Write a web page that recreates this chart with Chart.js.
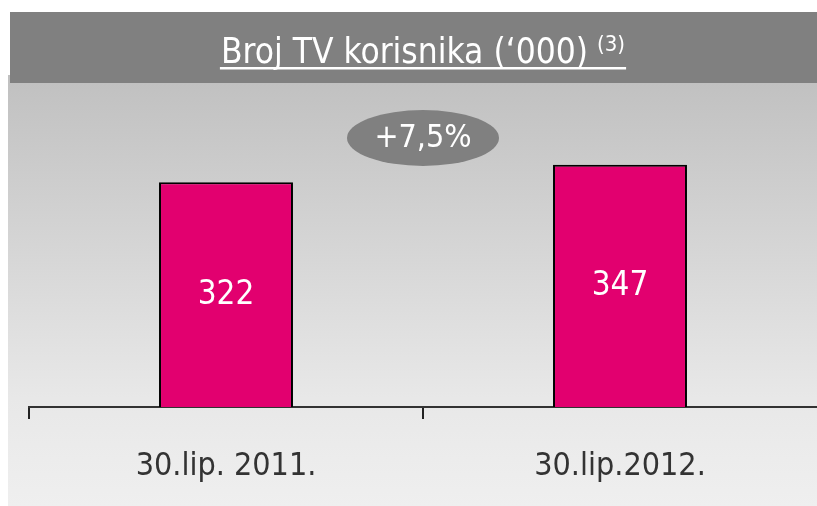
<!DOCTYPE html>
<html>
<head>
<meta charset="utf-8">
<script src="https://cdn.jsdelivr.net/npm/chart.js@4/dist/chart.umd.min.js"></script>
<style>
html,body{margin:0;padding:0;background:#fff;}
#wrap{width:817px;height:506px;position:relative;}
</style>
</head>
<body>
<div id="wrap"><canvas id="c" width="817" height="506"></canvas></div>
<script>
const categories = ['30.lip. 2011.', '30.lip.2012.'];
const tvUsers = [322, 347];
const titleText = 'Broj TV korisnika (\u2018000)';
const titleNote = '(3)';
const growthLabel = '+7,5%';

const FONT = "'DejaVu Sans Condensed', 'Liberation Sans', sans-serif";
const MAGENTA = '#e2006f';

const decor = {
  id: 'decor',
  beforeDraw(chart) {
    const ctx = chart.ctx;
    ctx.save();
    ctx.fillStyle = '#ffffff';
    ctx.fillRect(0, 0, 817, 506);
    const g = ctx.createLinearGradient(0, 75, 0, 506);
    g.addColorStop(0, '#c0c0c0');
    g.addColorStop(0.75, '#e8e8e8');
    g.addColorStop(1, '#efefef');
    ctx.fillStyle = g;
    ctx.fillRect(8, 75, 809, 431);
    ctx.fillStyle = '#808080';
    ctx.fillRect(10, 12, 807, 71);
    ctx.fillStyle = '#ffffff';
    ctx.textBaseline = 'alphabetic';
    ctx.textAlign = 'left';
    ctx.font = '35px ' + FONT;
    const w1 = ctx.measureText(titleText).width;
    ctx.font = '22px ' + FONT;
    const w2 = ctx.measureText(titleNote).width;
    const gap = 9;
    const total = w1 + gap + w2;
    const x0 = 423 - total / 2;
    ctx.font = '35px ' + FONT;
    ctx.fillText(titleText, x0, 63);
    ctx.font = '22px ' + FONT;
    ctx.fillText(titleNote, x0 + w1 + gap, 51);
    ctx.fillRect(x0 - 1, 67, total + 2, 2.5);
    ctx.restore();
  },
  afterDatasetsDraw(chart) {
    const ctx = chart.ctx;
    ctx.save();
    const meta = chart.getDatasetMeta(0);
    ctx.fillStyle = '#ffffff';
    ctx.font = '33px ' + FONT;
    ctx.textAlign = 'center';
    ctx.textBaseline = 'middle';
    meta.data.forEach((bar, i) => {
      const y = (bar.y + bar.base) / 2;
      ctx.fillText(String(tvUsers[i]), bar.x, y + 0.5);
    });
    const cx = (meta.data[0].x + meta.data[1].x) / 2;
    const cy = 138;
    ctx.fillStyle = '#808080';
    ctx.beginPath();
    ctx.ellipse(cx, cy, 76, 28, 0, 0, Math.PI * 2);
    ctx.fill();
    ctx.fillStyle = '#ffffff';
    ctx.font = '32px ' + FONT;
    ctx.fillText(growthLabel, cx, cy + 1);
    ctx.restore();
  }
};

new Chart(document.getElementById('c'), {
  type: 'bar',
  data: {
    labels: categories,
    datasets: [{
      data: tvUsers,
      backgroundColor: MAGENTA,
      borderColor: '#000000',
      borderWidth: {top: 2, left: 2, right: 2, bottom: 0},
      borderSkipped: 'bottom',
      barPercentage: 0.34,
      categoryPercentage: 1.0
    }]
  },
  options: {
    responsive: false,
    animation: false,
    devicePixelRatio: 1,
    layout: { padding: { top: 93, left: 29, right: 0, bottom: 0 } },
    plugins: { legend: { display: false }, tooltip: { enabled: false }, title: { display: false } },
    scales: {
      x: {
        offset: true,
        afterFit: (scale) => { scale.height = 99; },
        grid: {
          display: true, offset: true, drawOnChartArea: false, drawTicks: true, tickLength: 12, lineWidth: 2,
          color: (c) => (c.type === 'tick' ? '#222' : 'rgba(0,0,0,0)')
        },
        border: { display: true, color: '#333', width: 2 },
        ticks: { color: '#333', font: { family: FONT, size: 32 }, padding: 28, maxRotation: 0 }
      },
      y: {
        display: false,
        min: 0,
        max: 450
      }
    }
  },
  plugins: [decor]
});
</script>
</body>
</html>
